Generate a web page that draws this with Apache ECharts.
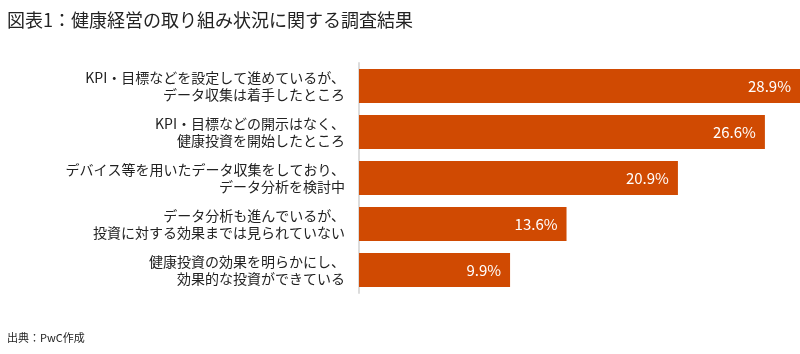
<!DOCTYPE html>
<html>
<head>
<meta charset="utf-8">
<script src="https://cdn.jsdelivr.net/npm/echarts@6/dist/echarts.min.js"></script>
<style>
  html, body { margin: 0; padding: 0; background: #fff; }
  #chart { width: 800px; height: 354px; }
</style>
</head>
<body>
<div id="chart"></div>
<script>
// 回答項目（上から順）
const categories = [
  'KPI・目標などを設定して進めているが、\nデータ収集は着手したところ',
  'KPI・目標などの開示はなく、\n健康投資を開始したところ',
  'デバイス等を用いたデータ収集をしており、\nデータ分析を検討中',
  'データ分析も進んでいるが、\n投資に対する効果までは見られていない',
  '健康投資の効果を明らかにし、\n効果的な投資ができている'
];
// 割合（%）
const values = [28.9, 26.6, 20.9, 13.6, 9.9];

const FONT = '"Noto Sans CJK JP", "Noto Sans", sans-serif';
const chart = echarts.init(document.getElementById('chart'));

chart.setOption({
  backgroundColor: '#fff',
  animation: false,
  textStyle: { fontFamily: FONT },
  title: [
    {
      text: '図表1：健康経営の取り組み状況に関する調査結果',
      left: 2, top: 6,
      textStyle: { fontSize: 18, fontWeight: 'normal', color: '#222', fontFamily: FONT }
    },
    {
      text: '出典：PwC作成',
      left: 2, top: 327,
      textStyle: { fontSize: 11, fontWeight: 'normal', color: '#222', fontFamily: FONT }
    }
  ],
  grid: { left: 359, right: 0, top: 63, bottom: 61, containLabel: false },
  xAxis: {
    type: 'value',
    min: 0,
    max: 28.9,
    show: false
  },
  yAxis: {
    type: 'category',
    inverse: true,
    data: categories,
    axisLine: { show: true, lineStyle: { color: '#dcdcdc', width: 2 } },
    axisTick: { show: false },
    axisLabel: {
      margin: 14,
      fontSize: 14,
      lineHeight: 17,
      color: '#222',
      align: 'right'
    }
  },
  series: [{
    type: 'bar',
    data: values,
    barWidth: 34,
    itemStyle: { color: '#d04a02' },
    label: {
      show: true,
      position: 'insideRight',
      distance: 9,
      color: '#fff',
      fontSize: 15,
      formatter: p => p.value.toFixed(1) + '%'
    }
  }]
});
</script>
</body>
</html>
